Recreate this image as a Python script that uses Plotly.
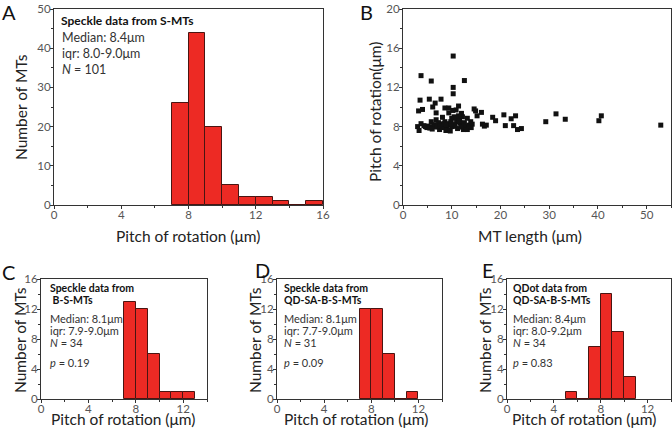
import plotly.graph_objects as go

# ---------------- data ----------------
# Panel A: Speckle data from S-MTs (bin left edges, counts)
a_bins = [7, 8, 9, 10, 11, 12, 13, 14, 15]
a_counts = [26, 44, 20, 5, 2, 2, 1, 0, 1]

# Panel C: Speckle data from B-S-MTs
c_bins = [7, 8, 9, 10, 11, 12]
c_counts = [13, 12, 6, 1, 1, 1]

# Panel D: Speckle data from QD-SA-B-S-MTs
d_bins = [7, 8, 9, 10, 11]
d_counts = [12, 12, 6, 0, 1]

# Panel E: QDot data from QD-SA-B-S-MTs
e_bins = [5, 6, 7, 8, 9, 10]
e_counts = [1, 0, 7, 14, 9, 3]

# Panel B: MT length vs pitch of rotation
b_length = [10.3, 3.7, 5.8, 12.6, 10.3, 10.3, 3.5, 5.4, 7.8, 3.2, 4.0, 6.1, 6.6, 6.8,
            8.6, 9.4, 11.4, 10.9, 10.2, 12.0, 14.6, 14.9, 16.1, 15.2, 18.4, 19.0, 20.7,
            21.0, 22.2, 23.1, 22.7, 23.5, 24.3, 29.3, 31.4, 33.3, 40.2, 40.7, 52.9,
            3.0, 3.3, 3.7, 4.6, 5.2, 5.9, 6.4, 6.8, 7.1, 7.5, 7.8, 8.1, 8.3, 8.6, 9.0,
            9.3, 9.5, 9.8, 10.0, 10.1, 10.5, 10.7, 11.0, 11.2, 11.6, 11.8, 12.2, 12.4,
            12.8, 13.2, 13.5, 13.9, 14.2, 16.3, 16.7, 17.1, 12.0, 5.8, 4.9, 8.8, 9.4,
            13.2, 11.4, 6.2, 7.3, 8.0, 9.1, 10.6, 11.9, 4.3, 5.5, 6.9, 8.4, 9.7, 12.6,
            7.6, 10.9, 14.0, 8.9, 6.0, 11.5, 9.9]
b_pitch = [15.2, 13.2, 12.65, 12.7, 12.0, 11.35, 10.7, 10.8, 10.8, 9.6, 9.75, 10.0, 10.4, 9.4,
           9.9, 9.9, 10.1, 9.7, 9.65, 9.35, 9.8, 9.6, 9.45, 9.1, 8.95, 8.6, 9.2,
           8.1, 8.8, 9.1, 8.1, 7.7, 7.8, 8.5, 9.3, 8.75, 8.6, 9.1, 8.15,
           8.0, 7.6, 8.3, 8.0, 8.05, 7.9, 8.2, 8.7, 7.95, 7.7, 8.25, 8.95, 8.0, 8.5, 7.8,
           8.15, 7.65, 8.5, 8.85, 8.0, 9.0, 8.05, 8.5, 7.8, 8.75, 8.35, 9.0, 7.7,
           8.0, 8.85, 8.15, 8.5, 8.25, 8.25, 8.05, 8.15, 8.1, 8.5, 7.9, 7.6, 9.4,
           7.7, 9.1, 8.0, 8.4, 7.9, 8.3, 8.2, 7.95, 8.1, 7.85, 8.05, 8.3, 7.55, 8.4,
           8.1, 8.9, 7.9, 8.2, 7.75, 8.6, 8.3]

FONT = "Lato"
BAR_FILL = "#ED2A24"
BAR_LINE = "#4a1512"
TICK_COL = "#555555"
TITLE_COL = "#222222"

fig = go.Figure()

def add_hist(bins, counts, xa, ya):
    fig.add_trace(go.Bar(
        x=[b + 0.5 for b in bins], y=counts, width=1,
        marker=dict(color=BAR_FILL, line=dict(color=BAR_LINE, width=1)),
        xaxis=xa, yaxis=ya, showlegend=False, hoverinfo="x+y"))

add_hist(a_bins, a_counts, "x", "y")
fig.add_trace(go.Scatter(x=b_length, y=b_pitch, mode="markers",
                         marker=dict(symbol="square", size=5, color="#111111"),
                         xaxis="x2", yaxis="y2", showlegend=False))
add_hist(c_bins, c_counts, "x3", "y3")
add_hist(d_bins, d_counts, "x4", "y4")
add_hist(e_bins, e_counts, "x5", "y5")

W, H = 672, 428

def xd(a, b):
    return [a / W, b / W]

def yd(top, bottom):
    return [(H - bottom) / H, (H - top) / H]

def axis(domain, anchor, rng, dtick, minor_dtick, is_x):
    return dict(
        domain=domain, anchor=anchor, range=rng, dtick=dtick, tick0=0,
        automargin=False,
        showgrid=False, zeroline=False, showline=True, linecolor="#333333",
        linewidth=1.2, mirror=True, ticks="outside", ticklen=3, tickcolor="#333333",
        ticklabelstandoff=-4 if is_x else -3,
        tickfont=dict(family=FONT, size=11.5, color=TICK_COL),
        minor=dict(dtick=minor_dtick, tick0=0, ticks="outside", ticklen=2, tickcolor="#333333"),
    )

layout = dict(
    width=W, height=H, margin=dict(l=0, r=0, t=0, b=0, autoexpand=False),
    paper_bgcolor="white", plot_bgcolor="white", bargap=0,
    font=dict(family=FONT),
)
layout["xaxis"] = axis(xd(54, 323), "y", [0, 16], 4, 2, True)
layout["yaxis"] = axis(yd(9, 205), "x", [0, 50], 10, 5, False)
layout["xaxis2"] = axis(xd(403, 671), "y2", [0, 55], 10, 5, True)
layout["yaxis2"] = axis(yd(9, 205), "x2", [0, 20], 4, 2, False)
layout["xaxis3"] = axis(xd(41, 207), "y3", [0, 14], 4, 2, True)
layout["yaxis3"] = axis(yd(279, 399), "x3", [0, 16], 4, 2, False)
layout["xaxis4"] = axis(xd(277, 442), "y4", [0, 14], 4, 2, True)
layout["yaxis4"] = axis(yd(279, 399), "x4", [0, 16], 4, 2, False)
layout["xaxis5"] = axis(xd(507, 671), "y5", [0, 14], 4, 2, True)
layout["yaxis5"] = axis(yd(279, 399), "x5", [0, 16], 4, 2, False)
fig.update_layout(**layout)

ann = []
def txt(x, y, text, size, xanchor="left", color="#333333", angle=0):
    ann.append(dict(x=x / W, y=(H - y) / H, xref="paper", yref="paper", text=text,
                    showarrow=False, xanchor=xanchor, yanchor="middle", textangle=angle,
                    font=dict(family=FONT, size=size, color=color)))

# Axis titles
txt(188, 236, "Pitch of rotation (μm)", 15.5, "center", TITLE_COL)
txt(21, 107, "Number of MTs", 15.5, "center", TITLE_COL, -90)
txt(530, 236, "MT length (μm)", 15.5, "center", TITLE_COL)
txt(375, 112, "Pitch of rotation(μm)", 15.5, "center", TITLE_COL, -90)
for xc, yc in [(123, 20), (356, 255), (584, 485)]:
    txt(xc, 419, "Pitch of rotation (μm)", 15.5, "center", TITLE_COL)
    txt(yc, 340, "Number of MTs", 15.5, "center", TITLE_COL, -90)

# Panel letters
txt(0, 12, "A", 20, color="#111111")
txt(358, 12, "B", 20, color="#111111")
txt(0, 272, "C", 20, color="#111111")
txt(253, 270, "D", 20, color="#111111")
txt(480, 270, "E", 20, color="#111111")

# Panel A text
txt(59, 20, "<b>Speckle data from S-MTs</b>", 12, color="#111111")
txt(60, 37, "Median: 8.4μm", 12.5)
txt(60, 53, "iqr: 8.0-9.0μm", 12.5)
txt(60, 70, "<i>N</i> = 101", 12.5)

# Panel C/D/E texts
def block(x0, lines):
    ys = [288, 300, 318, 330, 342, 362]
    for (t, bold), y in zip(lines, ys):
        if bold:
            txt(x0, y, "<b>" + t + "</b>", 10.5, color="#111111")
        else:
            txt(x0, y, t, 11)

block(48, [("Speckle data from", True), (" B-S-MTs", True), ("Median: 8.1μm", False),
           ("iqr: 7.9-9.0μm", False), ("<i>N</i> = 34", False), ("<i>p</i> = 0.19", False)])
block(282, [("Speckle data from", True), ("QD-SA-B-S-MTs", True), ("Median: 8.1μm", False),
            ("iqr: 7.7-9.0μm", False), ("<i>N</i> = 31", False), ("<i>p</i> = 0.09", False)])
block(511, [("QDot data from", True), ("QD-SA-B-S-MTs", True), ("Median: 8.4μm", False),
            ("iqr: 8.0-9.2μm", False), ("<i>N</i> = 34", False), ("<i>p</i> = 0.83", False)])

fig.update_layout(annotations=ann)
fig.write_html("out.html", config={"displayModeBar": False},
               post_script="document.body.style.margin='0px';")
